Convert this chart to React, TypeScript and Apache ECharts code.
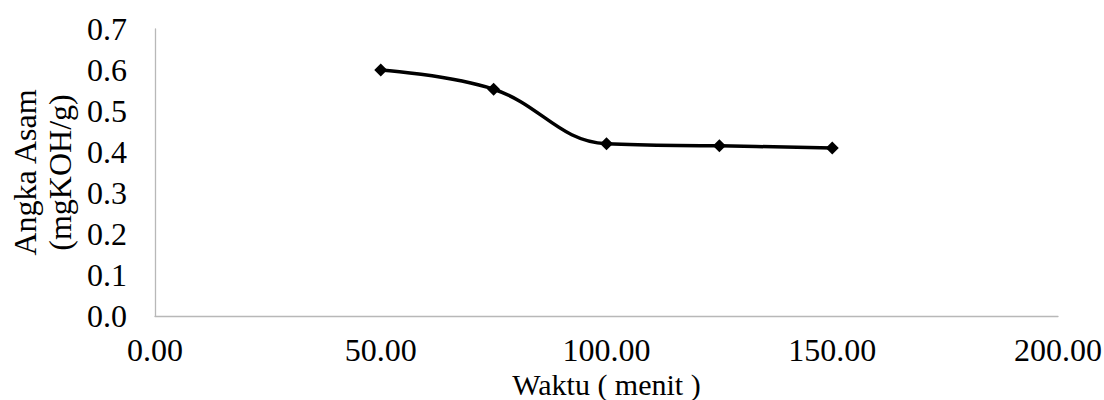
import React, { useEffect, useRef } from "react";
import * as echarts from "echarts";

// Reaction time (minutes) vs acid number (mgKOH/g)
const waktu = [50, 75, 100, 125, 150];
const angkaAsam = [0.6, 0.553, 0.42, 0.415, 0.41];

const FONT = "'Liberation Serif', 'Times New Roman', serif";
const FONT_SIZE = 32;

export default function App() {
  const ref = useRef<HTMLDivElement>(null);

  useEffect(() => {
    if (!ref.current) return;
    const chart = echarts.init(ref.current, undefined, { renderer: "svg" });
    chart.setOption({
      animation: false,
      backgroundColor: "#ffffff",
      grid: {
        left: 155,
        right: 46,
        top: 29,
        bottom: 84,
        containLabel: false,
        outerBoundsMode: "none",
      },
      xAxis: {
        type: "value",
        min: 0,
        max: 200,
        interval: 50,
        name: "Waktu ( menit )",
        nameLocation: "middle",
        nameGap: 53,
        nameMoveOverlap: false,
        nameTextStyle: { fontFamily: FONT, fontSize: 30, color: "#000" },
        axisLine: { show: true, lineStyle: { color: "#b8b8b8", width: 1.3 } },
        axisTick: { show: false },
        splitLine: { show: false },
        axisLabel: {
          fontFamily: FONT,
          fontSize: FONT_SIZE,
          color: "#000",
          margin: 18,
          formatter: (v: number) => v.toFixed(2),
        },
      },
      yAxis: {
        type: "value",
        min: 0,
        max: 0.7,
        interval: 0.1,
        name: "Angka Asam\n(mgKOH/g)",
        nameLocation: "middle",
        nameRotate: 90,
        nameGap: 78,
        nameMoveOverlap: false,
        nameTextStyle: {
          fontFamily: FONT,
          fontSize: FONT_SIZE,
          color: "#000",
          lineHeight: 35,
        },
        axisLine: { show: true, lineStyle: { color: "#b8b8b8", width: 1.3 } },
        axisTick: { show: false },
        splitLine: { show: false },
        axisLabel: {
          fontFamily: FONT,
          fontSize: FONT_SIZE,
          color: "#000",
          margin: 28,
          formatter: (v: number) => v.toFixed(1),
        },
      },
      series: [
        {
          type: "line",
          data: waktu.map((x, i) => [x, angkaAsam[i]]),
          smooth: 0.4,
          symbol: "diamond",
          symbolSize: 13,
          lineStyle: { color: "#000", width: 3.5 },
          itemStyle: { color: "#000" },
        },
      ],
    });
    return () => chart.dispose();
  }, []);

  return <div ref={ref} style={{ width: 1104, height: 400, position: "absolute", left: 0, top: 0 }} />;
}
